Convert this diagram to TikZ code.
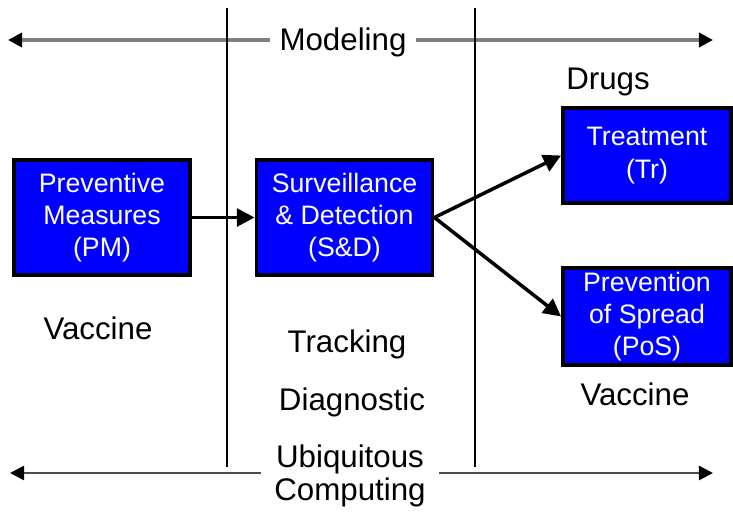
\documentclass[tikz,border=0pt]{standalone}
\usepackage{fontspec}
\setmainfont{Liberation Sans}
\usepackage{tikz}
\usetikzlibrary{positioning, arrows.meta}

\tikzset{
  caja/.style={draw=black, line width=1.1pt, fill=blue, text=white, align=center,
    inner sep=0pt, font=\fontsize{7.6}{9.2}\selectfont},
  texto/.style={align=center, inner sep=0pt, font=\fontsize{8.9}{9.4}\selectfont},
  flecha/.style={line width=1pt, -{Triangle[length=5pt,width=5pt]}},
  punta/.style={-{Triangle[black,length=4pt,width=4pt]}}
}

\begin{document}
\begin{tikzpicture}
        \useasboundingbox (0,0) rectangle (7.33,5.13);
        % Flecha de arriba
        \coordinate (mL) at (0.08,4.73);
        \coordinate (mR) at (7.13,4.73);
        \node[texto, inner xsep=0.09cm, inner ysep=0.05cm] (model) at (3.43,4.71) {Modeling};
        \draw[punta, line width=1.1pt, gray] (model.west |- mL) -- (mL);
        \draw[punta, line width=1.1pt, gray] (model.east |- mR) -- (mR);
        % Flecha de abajo
        \coordinate (uL) at (0.10,0.40);
        \coordinate (uR) at (7.13,0.40);
        \node[texto, inner xsep=0.13cm] (ubi) at (3.50,0.37) {Ubiquitous\\Computing};
        \draw[punta, line width=0.7pt, gray!60!black] (ubi.west |- uL) -- (uL);
        \draw[punta, line width=0.7pt, gray!60!black] (ubi.east |- uR) -- (uR);
        % Lineas verticales
        \coordinate (v1a) at (2.27,5.05);
        \coordinate (v1b) at (2.27,0.46);
        \coordinate (v2a) at (4.75,5.05);
        \coordinate (v2b) at (4.75,0.46);
        \draw[line width=0.4pt] (v1a) -- (v1b);
        \draw[line width=0.4pt] (v2a) -- (v2b);
        % Cajas
        \node[caja, minimum width=1.76cm, minimum height=1.15cm] (pm) at (1.02,2.955) {Preventive\\Measures\\(PM)};
        \node[caja, minimum width=1.76cm, minimum height=1.15cm] (sd) at (3.445,2.955) {Surveillance\\\& Detection\\(S\&D)};
        \node[caja, minimum width=1.68cm, minimum height=0.95cm] (tr) at (6.47,3.575) {Treatment\\(Tr)};
        \node[caja, minimum width=1.68cm, minimum height=0.97cm] (pos) at (6.47,1.965) {Prevention\\of Spread\\(PoS)};
        % Flechas entre cajas
        \draw[flecha] (pm.east) -- (sd.west);
        \draw[flecha] (sd.east) -- (tr.west);
        \draw[flecha] (sd.east) -- (pos.west);
        % Textos sueltos
        \node[texto] (drugs) at (6.08,4.31) {Drugs};
        \node[texto] (vac1) at (0.98,1.85) {Vaccine};
        \node[texto] (track) at (3.47,1.69) {Tracking};
        \node[texto] (diag) at (3.52,1.11) {Diagnostic};
        \node[texto] (vac2) at (6.35,1.19) {Vaccine};
    \end{tikzpicture}
\end{document}
